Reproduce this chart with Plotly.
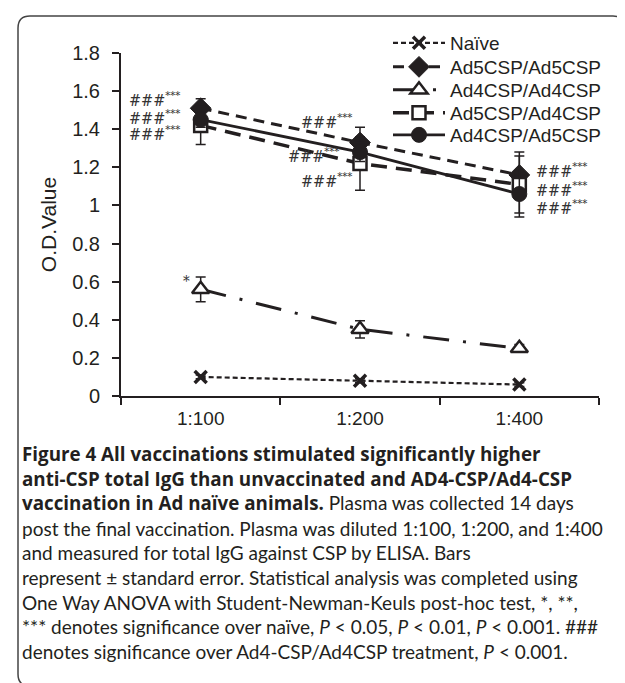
import plotly.graph_objects as go

# ---------------- data ----------------
dilutions = ["1:100", "1:200", "1:400"]
series_names = ["Naïve", "Ad5CSP/Ad5CSP", "Ad4CSP/Ad4CSP", "Ad5CSP/Ad4CSP", "Ad4CSP/Ad5CSP"]
naive = [0.10, 0.08, 0.06]
naive_se = [0.01, 0.01, 0.01]
ad5_ad5 = [1.51, 1.33, 1.16]
ad5_ad5_se = [0.05, 0.08, 0.10]
ad4_ad4 = [0.56, 0.35, 0.25]
ad4_ad4_se = [0.065, 0.045, 0.02]
ad5_ad4 = [1.42, 1.22, 1.11]
ad5_ad4_se = [0.10, 0.14, 0.17]
ad4_ad5 = [1.45, 1.28, 1.06]
ad4_ad5_se = [0.04, 0.05, 0.10]

sig_label = "###<sup>***</sup>"
star_label = "*"

# ---------------- styling ----------------
W, H = 625, 683
L, R, T, B = 113, 591, 45, 388  # plot area in pixels
INK = "#231f20"
AXFONT = "Liberation Sans, Arial, sans-serif"
SERIF = "DejaVu Serif Condensed, Liberation Serif, serif"


def px2x(px):
    return (px - L) / (R - L)


def px2y(py):
    return (B - py) / (B - T)


fig = go.Figure()

styles = [
    dict(values=naive, se=naive_se, dash="5px,3px", width=2.2,
         marker=dict(symbol="x-thin", size=12, color=INK, line=dict(width=3.5, color=INK))),
    dict(values=ad5_ad5, se=ad5_ad5_se, dash="11px,7px", width=3,
         marker=dict(symbol="diamond", size=16, color=INK, line=dict(width=1, color=INK))),
    dict(values=ad4_ad4, se=ad4_ad4_se, dash="26px,14px,3px,14px", width=3,
         marker=dict(symbol="triangle-up", size=15, color="white", line=dict(width=2.5, color=INK))),
    dict(values=ad5_ad4, se=ad5_ad4_se, dash="16px,9px", width=3.5,
         marker=dict(symbol="square", size=13, color="white", line=dict(width=2.5, color=INK))),
    dict(values=ad4_ad5, se=ad4_ad5_se, dash="solid", width=2.8,
         marker=dict(symbol="circle", size=15, color=INK, line=dict(width=1, color=INK))),
]

legend_ids = ["legend", "legend2", "legend3", "legend4", "legend5"]
legend_centers = [35, 59, 82, 105, 127]  # pixel rows of legend entries

for name, st, lid in zip(series_names, styles, legend_ids):
    fig.add_trace(go.Scatter(
        x=dilutions, y=st["values"], name=name, mode="lines+markers",
        legend=lid,
        line=dict(color=INK, width=st["width"], dash=st["dash"]),
        marker=st["marker"],
        error_y=dict(type="data", array=st["se"], visible=True,
                     color=INK, thickness=1.5, width=5),
    ))

# significance annotations (text placed near the data points)
ann_specs = [
    # (category index, y value, xanchor, xshift)
    (0, 1.555, "right", -19), (0, 1.462, "right", -19), (0, 1.375, "right", -19),
    (1, 1.443, "right", -6), (1, 1.264, "right", -19), (1, 1.133, "right", -6),
    (2, 1.185, "left", 15), (2, 1.086, "left", 15), (2, 0.99, "left", 15),
]
annotations = []
for ci, yv, xa, xs in ann_specs:
    annotations.append(dict(x=ci, y=yv, xref="x", yref="y", text=sig_label,
                            showarrow=False, xanchor=xa, yanchor="middle", xshift=xs,
                            font=dict(family=SERIF, size=16, color="#333333")))
annotations.append(dict(x=0, y=ad4_ad4[0] + 0.045, xref="x", yref="y", text=star_label,
                        showarrow=False, xanchor="right", yanchor="middle", xshift=-9,
                        font=dict(family=SERIF, size=15, color="#333333")))

BOLD = "<span style=\"font-family:'Open Sans';font-size:18.8px\"><b>{}</b></span>"
caption_lines = [
    BOLD.format("Figure 4 All vaccinations stimulated significantly higher"),
    BOLD.format("anti-CSP total IgG than unvaccinated and AD4-CSP/Ad4-CSP"),
    BOLD.format("vaccination in Ad naïve animals.") + " Plasma was collected 14 days",
    "post the final vaccination. Plasma was diluted 1:100, 1:200, and 1:400",
    "and measured for total IgG against CSP by ELISA. Bars",
    "represent ± standard error. Statistical analysis was completed using",
    "One Way ANOVA with Student-Newman-Keuls post-hoc test, *, **,",
    "*** denotes significance over naïve, <i>P</i> &lt; 0.05, <i>P</i> &lt; 0.01, <i>P</i> &lt; 0.001. ###",
    "denotes significance over Ad4-CSP/Ad4CSP treatment, <i>P</i> &lt; 0.001.",
]
for i, line in enumerate(caption_lines):
    yc = 446 + 24.7 * i
    annotations.append(dict(x=px2x(12), y=px2y(yc), xref="paper", yref="paper",
                            text=line, showarrow=False, xanchor="left", yanchor="middle",
                            font=dict(family="Lato, Open Sans, sans-serif", size=19, color=INK)))

# rounded border box
x0, y0, x1, y1, r = 10, 8, 617, 678, 12


def P(px, py):
    return f"{px2x(px):.5f},{px2y(py):.5f}"


path = (f"M {P(x0 + r, y0)} L {P(x1 - r, y0)} Q {P(x1, y0)} {P(x1, y0 + r)} "
        f"L {P(x1, y1 - r)} Q {P(x1, y1)} {P(x1 - r, y1)} "
        f"L {P(x0 + r, y1)} Q {P(x0, y1)} {P(x0, y1 - r)} "
        f"L {P(x0, y0 + r)} Q {P(x0, y0)} {P(x0 + r, y0)} Z")

legend_layouts = {}
for lid, yc in zip(legend_ids, legend_centers):
    legend_layouts[lid] = dict(
        x=px2x(380), y=px2y(yc), xanchor="left", yanchor="middle",
        bgcolor="rgba(0,0,0,0)", borderwidth=0,
        font=dict(size=19, family=AXFONT, color=INK), itemwidth=52,
    )

fig.update_layout(
    width=W, height=H,
    margin=dict(l=L, r=W - R, t=T, b=H - B, pad=0),
    paper_bgcolor="white", plot_bgcolor="white",
    font=dict(family=AXFONT, size=19, color=INK),
    showlegend=True,
    annotations=annotations,
    shapes=[dict(type="path", path=path, xref="paper", yref="paper",
                 line=dict(color="#444444", width=1.5), layer="above")],
    xaxis=dict(type="category", range=[-0.5, 2.5], tickson="boundaries",
               ticks="outside", ticklen=7, tickwidth=1.5, tickcolor=INK,
               ticklabelstandoff=4,
               showline=True, linewidth=2, linecolor=INK, showgrid=False, zeroline=False,
               tickfont=dict(size=19, family=AXFONT, color=INK)),
    yaxis=dict(range=[0, 1.8], dtick=0.2, tick0=0, ticks="outside", ticklen=7,
               tickwidth=1.5, tickcolor=INK, showline=True, linewidth=2, linecolor=INK,
               ticklabelstandoff=8,
               showgrid=False, zeroline=False,
               tickfont=dict(size=20, family=AXFONT, color=INK),
               title=dict(text="O.D.Value", font=dict(size=21, family=AXFONT, color=INK),
                          standoff=10)),
    **legend_layouts,
)

fig.write_html("out.html")
